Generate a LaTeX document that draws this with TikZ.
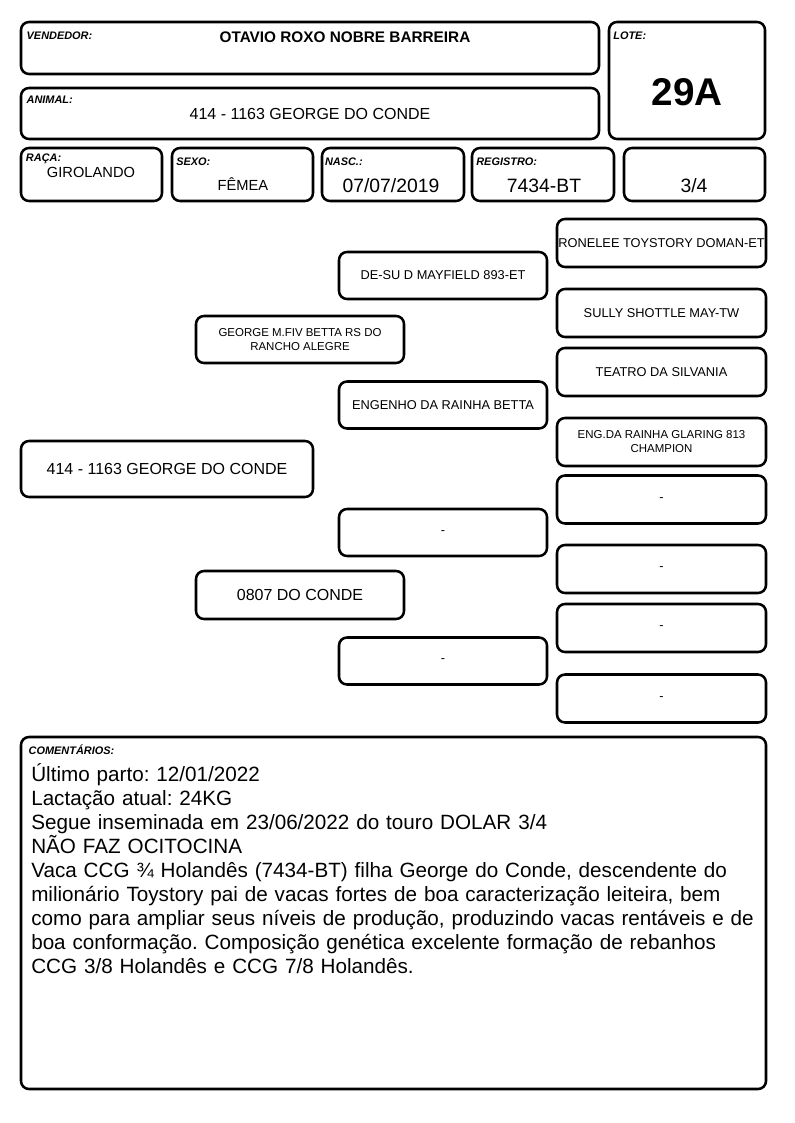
\documentclass[tikz,border=0pt]{standalone}
\usepackage{fontspec}
\setmainfont{Liberation Sans}
\usetikzlibrary{positioning}
\frenchspacing

\begin{document}
\begin{tikzpicture}[
  x=0.75pt, y=-0.75pt,
  box/.style={draw=black, line width=1.9pt, rounded corners=6pt,
              inner sep=0pt, align=center},
  boxsize/.style 2 args={minimum width=#1*0.75pt, minimum height=#2*0.75pt},
  tag/.style={font=\fontsize{8.2}{9}\selectfont\bfseries\itshape,
              inner sep=0pt, anchor=north west},
  val/.style={font=\fontsize{11}{13}\selectfont, inner sep=0pt},
  bigval/.style={font=\fontsize{14.5}{16}\selectfont, inner sep=0pt},
  ped/.style={box, boxsize={208}{47}, font=\fontsize{9.6}{11}\selectfont},
  pedsmall/.style={ped, font=\fontsize{8.6}{10.5}\selectfont}
]
\useasboundingbox (0,0) rectangle (794,1123);

% header boxes
\node[box, boxsize={578}{52}] (vend) at (310,48) {};
\node[box, boxsize={156}{117}] (lote) at (687,80.5) {};
\node[box, boxsize={578}{51}, font=\fontsize{12}{14}\selectfont] (animal) at (310,113.5)
  {414 - 1163 GEORGE DO CONDE};
\node[box, boxsize={141}{53}] (raca) at (91.5,174.5) {};
\node[box, boxsize={141}{53}] (sexo) at (242.5,174.5) {};
\node[box, boxsize={142}{53}] (nasc) at (393,174.5) {};
\node[box, boxsize={142}{53}] (reg) at (543,174.5) {};
\node[box, boxsize={141}{53}] (grau) at (694.5,174.5) {};

\node[tag, below right=8pt and 5pt of vend.north west] (vendtag) {VENDEDOR:};
\node[tag, below right=8pt and 4pt of lote.north west] (lotetag) {LOTE:};
\node[tag, below right=7pt and 5pt of animal.north west] (animaltag) {ANIMAL:};
\node[tag, below right=5.5pt and 4.5pt of raca.north west] (racatag) {RAÇA:};
\node[tag, below right=8pt and 4pt of sexo.north west] (sexotag) {SEXO:};
\node[tag, below right=8pt and 3pt of nasc.north west] (nasctag) {NASC.:};
\node[tag, below right=8pt and 4pt of reg.north west] (regtag) {REGISTRO:};

\node[font=\fontsize{11.5}{13}\selectfont\bfseries, inner sep=0pt] (vendval) at (345,37)
  {OTAVIO ROXO NOBRE BARREIRA};
\node[font=\fontsize{29}{32}\selectfont\bfseries, inner sep=0pt] (loteval) at (687,92) {29A};
\node[val] (racaval) at (91,172) {GIROLANDO};
\node[val] (sexoval) at (243,184) {FÊMEA};
\node[bigval] (nascval) at (391,186) {07/07/2019};
\node[bigval] (regval) at (544,186) {7434-BT};
\node[bigval] (grauval) at (694,186) {3/4};

% pedigree
\node[box, boxsize={292}{56}, font=\fontsize{12}{14}\selectfont] (filho) at (167,469)
  {414 - 1163 GEORGE DO CONDE};
\node[pedsmall] (pai) at (300,339.5) {GEORGE M.FIV BETTA RS DO\\RANCHO ALEGRE};
\node[ped, boxsize={208}{48}, font=\fontsize{12}{14}\selectfont] (mae) at (300,595) {0807 DO CONDE};

\node[ped] (avopp) at (443,275.5) {DE-SU D MAYFIELD 893-ET};
\node[ped] (avopm) at (443,405) {ENGENHO DA RAINHA BETTA};
\node[ped] (avomp) at (443,532.5) {-};
\node[ped] (avomm) at (443,661) {-};

\node[ped, boxsize={209}{48}] (bis1) at (661.5,243) {RONELEE TOYSTORY DOMAN-ET};
\node[ped, boxsize={209}{48}] (bis2) at (661.5,313) {SULLY SHOTTLE MAY-TW};
\node[ped, boxsize={209}{48}] (bis3) at (661.5,372) {TEATRO DA SILVANIA};
\node[pedsmall, boxsize={209}{48}] (bis4) at (661.5,442) {ENG.DA RAINHA GLARING 813\\CHAMPION};
\node[ped, boxsize={209}{48}] (bis5) at (661.5,499.5) {-};
\node[ped, boxsize={209}{48}] (bis6) at (661.5,569) {-};
\node[ped, boxsize={209}{48}] (bis7) at (661.5,628) {-};
\node[ped, boxsize={209}{48}] (bis8) at (661.5,698.5) {-};

% comments
\node[box, boxsize={745}{352}] (coment) at (393.5,913) {};
\node[tag, below right=6.5pt and 6.5pt of coment.north west] (comenttag) {COMENTÁRIOS:};
\node[anchor=north west, inner sep=0pt, align=left, text width=740*0.75pt,
      font=\fontsize{15.5}{18}\selectfont] (comenttxt) at (31,763)
  {Último parto: 12/01/2022\\
   Lactação atual: 24KG\\
   Segue inseminada em 23/06/2022 do touro DOLAR 3/4\\
   NÃO FAZ OCITOCINA\\
   Vaca CCG ¾ Holandês (7434-BT) filha George do Conde, descendente do\\
   milionário Toystory pai de vacas fortes de boa caracterização leiteira, bem\\
   como para ampliar seus níveis de produção, produzindo vacas rentáveis e de\\
   boa conformação. Composição genética excelente formação de rebanhos\\
   CCG 3/8 Holandês e CCG 7/8 Holandês.};
\end{tikzpicture}
\end{document}
